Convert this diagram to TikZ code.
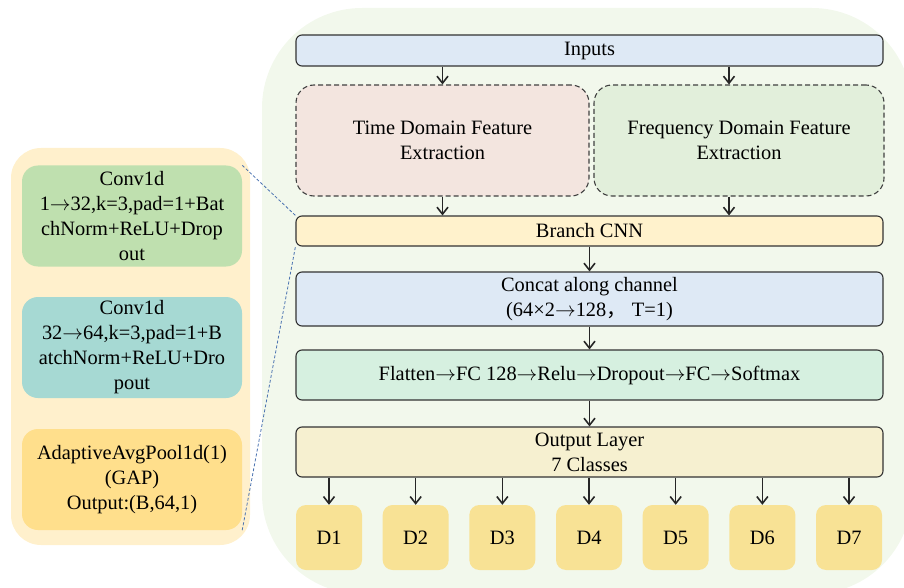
\documentclass[tikz,border=0pt]{standalone}
\usepackage{fontspec}
\setmainfont{Liberation Serif}
\newfontfamily\cjk{Noto Sans CJK SC}
\usepackage{xcolor}
\usetikzlibrary{arrows.meta}

\definecolor{bgGreen}{HTML}{F2F8EC}
\definecolor{bgPeach}{HTML}{FFF0CC}
\definecolor{convA}{HTML}{BFE0AF}
\definecolor{convB}{HTML}{A6D9D3}
\definecolor{convC}{HTML}{FFDF8C}
\definecolor{inBlue}{HTML}{DEE9F5}
\definecolor{timeRose}{HTML}{F3E5DF}
\definecolor{freqGreen}{HTML}{E2EFDB}
\definecolor{branchYel}{HTML}{FFF2CC}
\definecolor{fcMint}{HTML}{D6F0E0}
\definecolor{outYel}{HTML}{F6F0D0}
\definecolor{clsYel}{HTML}{F8E295}
\definecolor{linkBlue}{HTML}{4A72B0}

\tikzset{
	txt/.style={font=\fontsize{20.4}{25}\selectfont, align=center, inner sep=0pt},
	blk/.style={txt, draw=black!80, line width=1.1pt, rounded corners=6pt, minimum width=587pt},
	featbox/.style={txt, draw=black!75, line width=1.1pt, dash pattern=on 5pt off 3pt, rounded corners=18pt, minimum height=111pt},
	convbox/.style={txt, rounded corners=16pt, minimum width=220pt, minimum height=101pt},
	clsbox/.style={txt, fill=clsYel, rounded corners=10pt, minimum width=66pt, minimum height=65pt},
	arr/.style={-{Straight Barb[length=7pt,width=11pt]}, line width=1.6pt, black!85},
	link/.style={linkBlue, line width=0.8pt, dash pattern=on 3pt off 2pt}
}

\begin{document}
\begin{tikzpicture}[x=1pt,y=-1pt]
		\useasboundingbox (0,0) rectangle (904,588);
		\clip (0,0) rectangle (904,588);
		\fill [bgGreen, rounded corners=100pt] (262,8) rectangle (912,594);
		\fill [bgPeach, rounded corners=30pt] (11,148) rectangle (250,545);

		% left panel
		\node [convbox, fill=convA] (conv1) at (132,216) {Conv1d\\1\(\rightarrow\)32,k=3,pad=1+Bat\\chNorm+ReLU+Drop\\out};
		\node [convbox, fill=convB] (conv2) at (132,347.5) {Conv1d\\32\(\rightarrow\)64,k=3,pad=1+B\\atchNorm+ReLU+Dro\\pout};
		\node [convbox, fill=convC] (conv3) at (132,479.5) {AdaptiveAvgPool1d(1)\\(GAP)\\Output:(B,64,1)};

		% main flow
		\node [blk, fill=inBlue, minimum height=31pt] (inputs) at (589.5,50.5) {Inputs};
		\node [featbox, fill=timeRose, minimum width=293pt] (time) at (442.5,140.5) {Time Domain Feature\\Extraction};
		\node [featbox, fill=freqGreen, minimum width=290pt] (freq) at (739,140.5) {Frequency Domain Feature\\Extraction};
		\node [blk, fill=branchYel, minimum height=30pt] (branch) at (589.5,231) {Branch CNN};
		\node [blk, fill=inBlue, minimum height=54pt] (concat) at (589.5,299) {Concat along channel\\(64×2\(\rightarrow\)128{\cjk ，} T=1)};
		\node [blk, fill=fcMint, minimum height=50pt] (fc) at (589.5,375) {Flatten\(\rightarrow\)FC 128\(\rightarrow\)Relu\(\rightarrow\)Dropout\(\rightarrow\)FC\(\rightarrow\)Softmax};
		\node [blk, fill=outYel, minimum height=50pt] (output) at (589.5,452) {Output Layer\\7 Classes};
		\foreach \i in {1,...,7}
			\node [clsbox] (d\i) at ({329+86.67*(\i-1)},537.5) {D\i};
		\coordinate (fin) at ([xshift=-10pt]freq.north);
		\coordinate (fout) at ([xshift=-10pt]freq.south);

		\draw [arr] (inputs.south -| time.north) -- (time.north);
		\draw [arr] (inputs.south -| fin) -- (fin);
		\draw [arr] (time.south) -- (branch.north -| time.south);
		\draw [arr] (fout) -- (branch.north -| fout);
		\draw [arr] (branch) -- (concat);
		\draw [arr] (concat) -- (fc);
		\draw [arr] (fc) -- (output);
		\foreach \i in {1,...,7}
			\draw [arr] (output.south -| d\i.north) -- (d\i.north);

		\draw [link] (conv1.north east) -- (branch.north west)
			  (conv3.south east) -- (branch.south west);
	\end{tikzpicture}
\end{document}
